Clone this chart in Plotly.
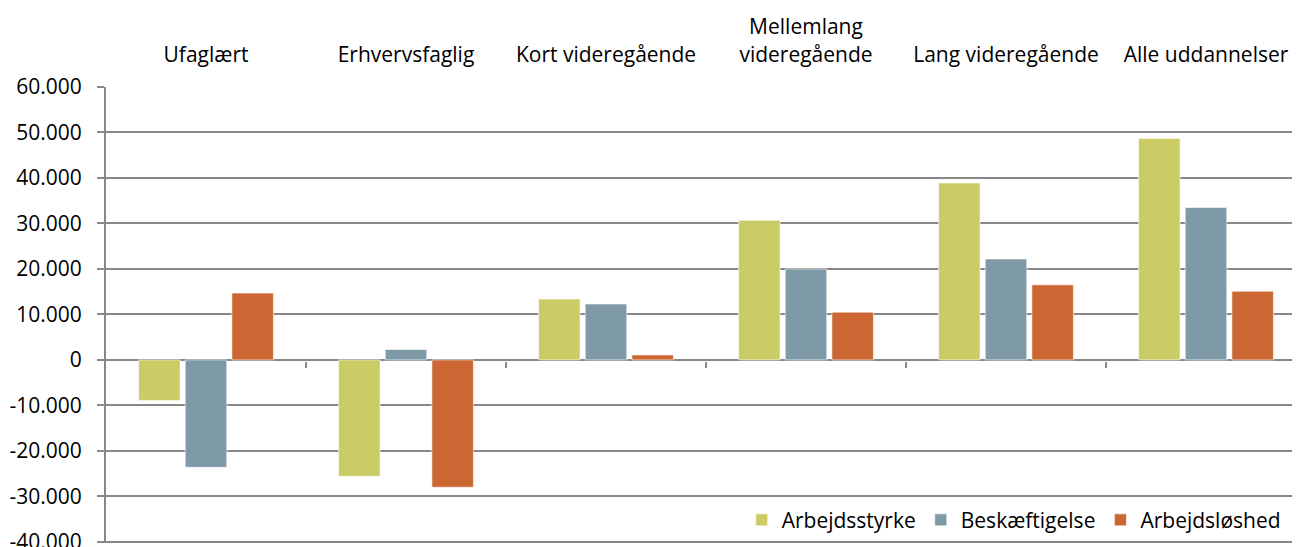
import plotly.graph_objects as go

# education groups (x categories, shown on top)
categories = ['Ufaglært', 'Erhvervsfaglig', 'Kort videregående',
              'Mellemlang<br>videregående', 'Lang videregående', 'Alle uddannelser']

# change in persons
arbejdsstyrke = [-8900, -25600, 13400, 30700, 38900, 48700]
beskaeftigelse = [-23600, 2300, 12300, 20000, 22200, 33500]
arbejdsloeshed = [14700, -28000, 1100, 10500, 16500, 15100]

series_names = ['Arbejdsstyrke', 'Beskæftigelse', 'Arbejdsløshed']
series_colors = ['#CCCC66', '#7F9AA7', '#CC6633']

y_ticks = [60000, 50000, 40000, 30000, 20000, 10000, 0, -10000, -20000, -30000, -40000]
y_labels = ['60.000', '50.000', '40.000', '30.000', '20.000', '10.000', '0',
            '-10.000', '-20.000', '-30.000', '-40.000']

# boundaries between groups, where the little tick marks sit on the zero line
group_edges = [0.5, 1.5, 2.5, 3.5, 4.5]

FONT = 'Open Sans'
GRID = '#888888'
x_range = [-0.5, 5.47]

fig = go.Figure()
for name, vals, col in zip(series_names, [arbejdsstyrke, beskaeftigelse, arbejdsloeshed], series_colors):
    fig.add_trace(go.Bar(x=categories, y=vals, name=name,
                         marker=dict(color=col, line=dict(color='rgba(255,255,255,0.6)', width=1))))

# empty trace so the tick-only axis gets drawn
fig.add_trace(go.Scatter(x=[], y=[], xaxis='x2', showlegend=False, hoverinfo='skip'))

# page body adds 8px offset, margins compensate
fig.update_layout(
    width=1300, height=547,
    margin=dict(l=98, r=8, t=79, b=12, autoexpand=False),
    paper_bgcolor='white', plot_bgcolor='white',
    font=dict(family=FONT, size=21, color='#000000'),
    barmode='group', bargap=0.3, bargroupgap=0.11,
    showlegend=True,
    legend=dict(orientation='h', x=0.988, xanchor='right', y=0.005, yanchor='bottom',
                bgcolor='white', font=dict(size=21), traceorder='normal',
                itemwidth=30, tracegroupgap=0),
    xaxis=dict(type='category', side='top', range=x_range, showgrid=False,
               showline=False, ticks='', zeroline=False, ticklabelstandoff=20,
               tickfont=dict(size=21), automargin=False),
    xaxis2=dict(overlaying='x', type='linear', range=x_range, anchor='free', position=0.4,
                side='bottom', tickvals=group_edges, showticklabels=False,
                ticks='outside', ticklen=6, tickwidth=2, tickcolor=GRID,
                showgrid=False, showline=False, zeroline=False, automargin=False),
    yaxis=dict(range=[-40250, 60000], tickvals=y_ticks, ticktext=y_labels,
               showgrid=True, gridcolor=GRID, gridwidth=1.5,
               zeroline=True, zerolinecolor=GRID, zerolinewidth=1.5,
               showline=True, linecolor=GRID, linewidth=2,
               ticks='outside', ticklen=7, tickwidth=1.5, tickcolor=GRID,
               ticklabelstandoff=11, ticklabeloverflow='allow',
               tickfont=dict(size=21), automargin=False),
)

fig.write_html('out.html')
